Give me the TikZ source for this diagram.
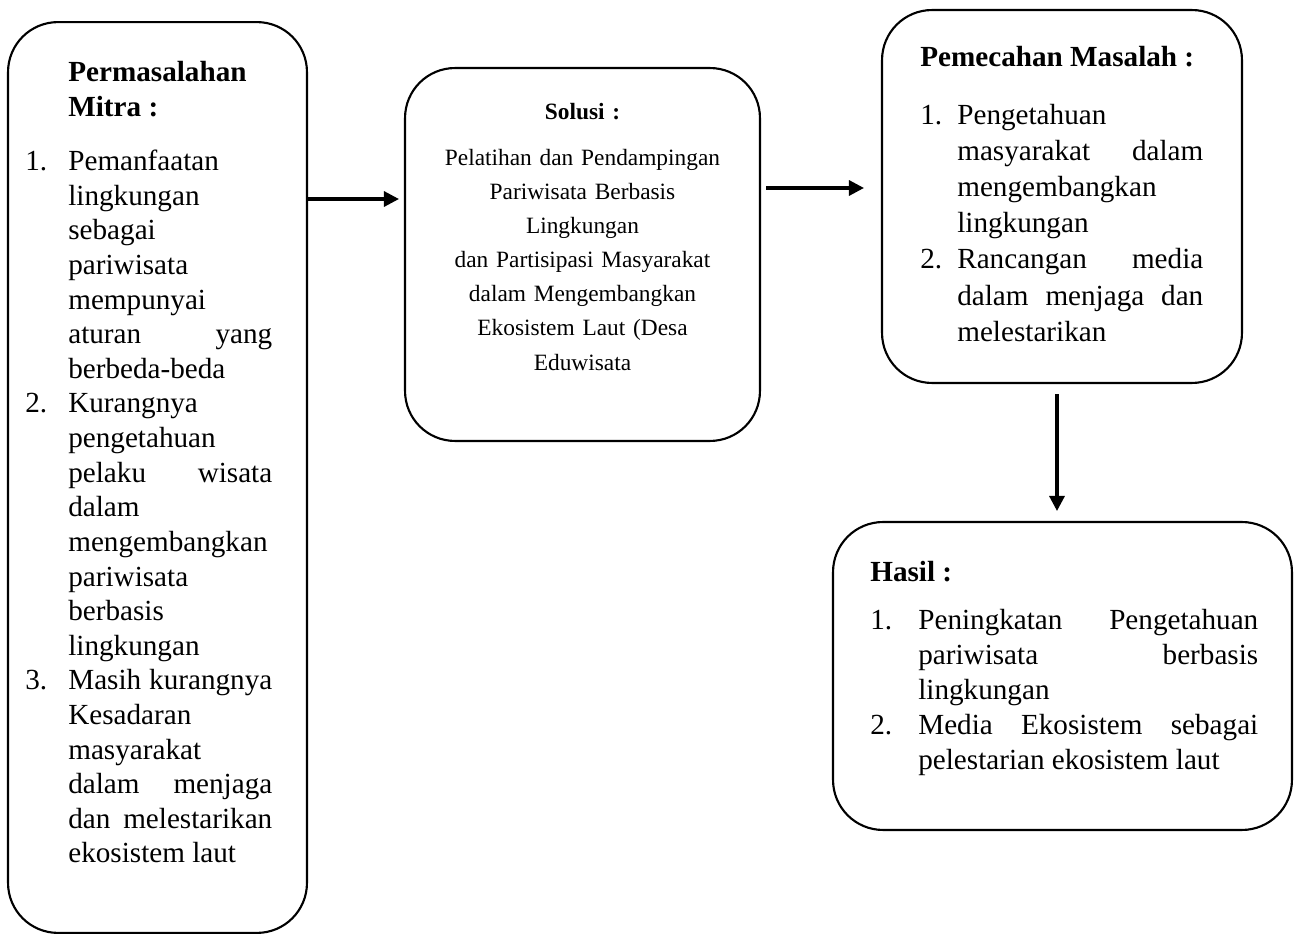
\documentclass[tikz,border=0pt]{standalone}
\usepackage{fontspec}
\setmainfont{Liberation Serif}
\usetikzlibrary{arrows.meta,positioning}

\tolerance=10000 \hbadness=10000
\hyphenpenalty=10000 \exhyphenpenalty=10000

\newlength{\numw}
\newcommand{\hitem}[2]{\par\noindent\hangindent=\numw\hangafter=1
  \makebox[\numw][l]{#1}#2\par}

\begin{document}
\begin{tikzpicture}[x=0.02cm, y=-0.02cm,
  box/.style={draw, line width=1.2pt, rounded corners=1cm, inner sep=0pt},
  txt/.style={inner sep=0pt, align=justify, anchor=base west,
    font=\fontsize{16.6}{19.7}\selectfont},
  arr/.style={-{Triangle[length=0.3cm,width=0.3cm]}, line width=1.8pt}]
\useasboundingbox (0,0) rectangle (1296,935);

% boxes
\node[box, minimum width=5.98cm, minimum height=18.22cm] (masalah) at (157.5,477.5) {};
\node[box, minimum width=7.1cm, minimum height=7.46cm] (solusi) at (582.5,254.5) {};
\node[box, minimum width=7.2cm, minimum height=7.46cm] (pemecahan) at (1062,196.5) {};
\node[box, minimum width=9.18cm, minimum height=6.16cm] (hasil) at (1062.5,676) {};

% texts
\node[txt, text width=4.94cm] (masalahtxt) at (25,82) {\setlength{\numw}{0.86cm}%
  \noindent\hspace*{\numw}\textbf{Permasalahan}\newline
  \hspace*{\numw}\textbf{Mitra :}\par\vspace{0.39cm}
  \hitem{1.}{Pemanfaatan\linebreak lingkungan\linebreak sebagai\linebreak
    pariwisata\linebreak mempunyai\linebreak aturan yang\linebreak berbeda-beda}
  \hitem{2.}{Kurangnya\linebreak pengetahuan\linebreak pelaku wisata\linebreak
    dalam\linebreak mengembangkan\linebreak pariwisata\linebreak berbasis\linebreak
    lingkungan}
  \hitem{3.}{Masih kurangnya\linebreak Kesadaran\linebreak masyarakat\linebreak
    dalam menjaga\linebreak dan melestarikan\linebreak ekosistem laut}};

\node[txt, text width=6.8cm, align=center, anchor=base,
  font=\fontsize{13.3}{19.4}\selectfont] (solusitxt) at (582.5,120) {%
  \textbf{Solusi :}\par\vspace{0.23cm}
  Pelatihan dan Pendampingan\\ Pariwisata Berbasis\\ Lingkungan\\
  dan Partisipasi Masyarakat\\ dalam Mengembangkan\\ Ekosistem Laut (Desa\\
  Eduwisata};

\node[txt, text width=5.66cm, font=\fontsize{16.6}{20.6}\selectfont]
  (pemecahantxt) at (920,67) {\setlength{\numw}{0.74cm}%
  \noindent\textbf{Pemecahan Masalah :}\par\vspace{0.42cm}
  \hitem{1.}{Pengetahuan\linebreak masyarakat dalam\linebreak
    mengembangkan\linebreak lingkungan}
  \hitem{2.}{Rancangan media\linebreak dalam menjaga dan\linebreak melestarikan}};

\node[txt, text width=7.76cm, font=\fontsize{16.6}{19.85}\selectfont]
  (hasiltxt) at (870,582) {\setlength{\numw}{0.96cm}%
  \noindent\textbf{Hasil :}\par\vspace{0.26cm}
  \hitem{1.}{Peningkatan Pengetahuan\linebreak pariwisata berbasis\linebreak lingkungan}
  \hitem{2.}{Media Ekosistem sebagai\linebreak pelestarian ekosistem laut}};

% arrows
\draw[arr, shorten >=0.1cm] ([yshift=1.11cm]solusi.west -| masalah.east)
  -- ([yshift=1.11cm]solusi.west);
\draw[arr, shorten <=0.1cm, shorten >=0.34cm] ([yshift=0.17cm]pemecahan.west -| solusi.east)
  -- ([yshift=0.17cm]pemecahan.west);
\draw[arr, shorten <=0.2cm, shorten >=0.2cm] ([xshift=-0.1cm]pemecahan.south)
  -- ([xshift=-0.1cm]pemecahan.south |- hasil.north);
\end{tikzpicture}
\end{document}
